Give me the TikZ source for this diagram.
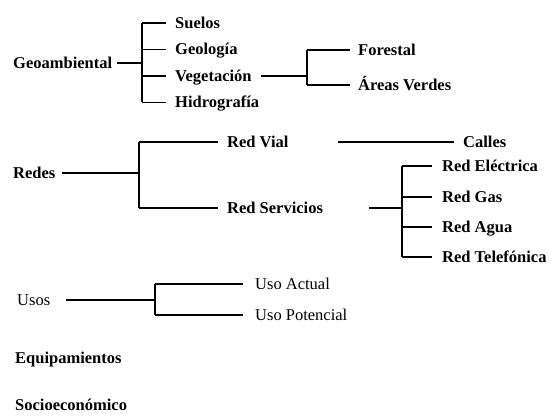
\documentclass[tikz,border=0pt]{standalone}
\usepackage{fontspec}
\setmainfont{Liberation Serif}
\begin{document}
\begin{tikzpicture}[x=1pt,y=-1pt,
  eintrag/.style={anchor=west,inner sep=0pt,text height=11pt,text depth=0pt,font=\fontsize{16.5}{19}\selectfont\bfseries},
  duenn/.style={eintrag,font=\fontsize{16.5}{19}\selectfont},
  linie/.style={line width=1.1pt},
  ast/.style={linie,shorten >=9pt}]
% Rahmen (Bildgröße)
\useasboundingbox (0,0) rectangle (550,419);

% Geoambiental
\node[eintrag] (geo)    at (13,63)    {Geoambiental};
\node[eintrag] (suelos) at (175,23)   {Suelos};
\node[eintrag] (geol)   at (175,49.5) {Geología};
\node[eintrag] (veg)    at (175,76)   {Vegetación};
\node[eintrag] (hidro)  at (175,102.5){Hidrografía};
\coordinate (gk) at (142,63);
\draw[linie] ([xshift=104pt]geo.west) -- (gk);
\draw[linie] (gk |- suelos.west) -- (gk |- hidro.west);
\foreach \n in {suelos,geol,veg,hidro}{
  \draw[ast] (gk |- \n.west) -- (\n.west);
}

% Vegetación -> Forestal / Áreas Verdes
\node[eintrag] (forest) at (358,50) {Forestal};
\node[eintrag] (areas)  at (358,85) {Áreas Verdes};
\coordinate (vk) at (307,76);
\draw[linie] ([xshift=86pt]veg.west) -- (vk);
\draw[linie] (vk |- forest.west) -- (vk |- areas.west);
\foreach \n in {forest,areas}{
  \draw[ast,shorten >=8pt] (vk |- \n.west) -- (\n.west);
}

% Redes
\node[eintrag] (redes) at (13,173)  {Redes};
\node[eintrag] (rvial) at (227,142) {Red Vial};
\node[eintrag] (rserv) at (227,208) {Red Servicios};
\coordinate (rk) at (139,173);
\draw[linie] ([xshift=49pt]redes.west) -- (rk);
\draw[linie] (rk |- rvial.west) -- (rk |- rserv.west);
\foreach \n in {rvial,rserv}{
  \draw[ast] (rk |- \n.west) -- (\n.west);
}

% Red Vial -> Calles
\node[eintrag] (calles) at (463,142) {Calles};
\draw[ast] ([xshift=111pt]rvial.west) -- (calles.west);

% Red Servicios -> Netze
\node[eintrag] (elec) at (442,166) {Red Eléctrica};
\node[eintrag] (gas)  at (442,197) {Red Gas};
\node[eintrag] (agua) at (442,227) {Red Agua};
\node[eintrag] (tele) at (442,257) {Red Telefónica};
\coordinate (sk) at (402,208);
\draw[linie] ([xshift=142pt]rserv.west) -- (sk);
\draw[linie] (sk |- elec.west) -- (sk |- tele.west);
\foreach \n in {elec,gas,agua,tele}{
  \draw[ast,shorten >=10pt] (sk |- \n.west) -- (\n.west);
}

% Usos (normale Schrift)
\node[duenn] (usos) at (17,300)  {Usos};
\node[duenn] (uact) at (255,284) {Uso Actual};
\node[duenn] (upot) at (255,315) {Uso Potencial};
\coordinate (uk) at (155,300);
\draw[linie] ([xshift=49pt]usos.west) -- (uk);
\draw[linie] (uk |- uact.west) -- (uk |- upot.west);
\foreach \n in {uact,upot}{
  \draw[ast,shorten >=12pt] (uk |- \n.west) -- (\n.west);
}

% ohne Unterpunkte
\node[eintrag] (equip) at (15,358) {Equipamientos};
\node[eintrag] (socio) at (15,405) {Socioeconómico};
\end{tikzpicture}
\end{document}
